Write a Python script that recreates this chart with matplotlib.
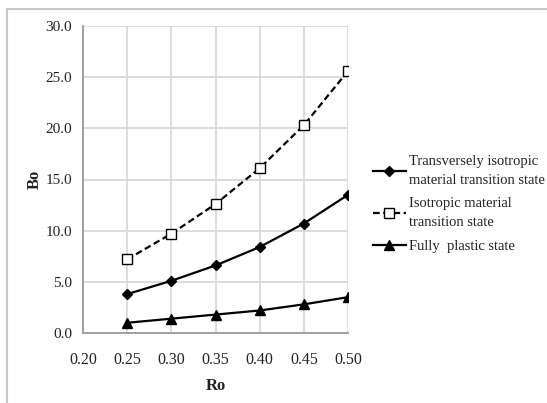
import matplotlib
matplotlib.use("Agg")
import matplotlib.pyplot as plt
from matplotlib.patches import Rectangle

# data
ro = [0.25, 0.30, 0.35, 0.40, 0.45, 0.50]
bo_transverse = [3.8, 5.1, 6.6, 8.4, 10.7, 13.5]
bo_isotropic = [7.2, 9.7, 12.6, 16.1, 20.3, 25.6]
bo_plastic = [1.0, 1.4, 1.8, 2.2, 2.8, 3.5]

labels = [
    "Transversely isotropic\nmaterial transition state",
    "Isotropic material\ntransition state",
    "Fully  plastic state",
]
x_ticks = [0.20, 0.25, 0.30, 0.35, 0.40, 0.45, 0.50]
y_ticks = [0.0, 5.0, 10.0, 15.0, 20.0, 25.0, 30.0]

plt.rcParams['font.family'] = ['Liberation Serif', 'DejaVu Serif']

fig = plt.figure(figsize=(5.47, 4.03), dpi=100)
# outer chart-area frame (runs off the right and bottom edges)
fig.patches.append(Rectangle((7 / 547, -0.05), 1.2, 1 - 9 / 403 + 0.05,
                             transform=fig.transFigure, fill=False,
                             edgecolor="#c8c8c8", linewidth=1.5))

ax = fig.add_axes([83 / 547, 70 / 403, 265 / 547, 307 / 403])

ax.plot(ro, bo_transverse, color="black", lw=1.6, marker="D", ms=5.5,
        label=labels[0])
ax.plot(ro, bo_isotropic, color="black", lw=1.6, ls=(0, (3, 1.6)),
        marker="s", ms=7, mfc="white", mec="black", mew=1.0, label=labels[1])
ax.plot(ro, bo_plastic, color="black", lw=1.6, marker="^", ms=7,
        label=labels[2])

ax.set_xlim(0.20, 0.50)
ax.set_ylim(0, 30)
ax.set_xticks(x_ticks)
ax.set_yticks(y_ticks)
ax.set_xticklabels([f"{v:.2f}" for v in x_ticks], fontsize=11.5)
ax.set_yticklabels([f"{v:.1f}" for v in y_ticks], fontsize=11)
ax.tick_params(axis="x", length=0, pad=14)
ax.tick_params(axis="y", length=0, pad=8)
for lab in ax.get_xticklabels() + ax.get_yticklabels():
    lab.set_color("#222222")

ax.grid(True, color="#d9d9d9", lw=1.3)
ax.set_axisbelow(True)
for side in ["top", "right"]:
    ax.spines[side].set_visible(False)
for side in ["left", "bottom"]:
    ax.spines[side].set_color("#9a9a9a")
    ax.spines[side].set_linewidth(1.3)

ax.set_xlabel("Ro", fontsize=12, fontweight="bold", labelpad=7,
              color="#222222")
ax.set_ylabel("Bo", fontsize=12, fontweight="bold", labelpad=2,
              color="#222222")

leg = ax.legend(loc="center left", bbox_to_anchor=(1.065, 0.42),
                frameon=False, fontsize=10.5, handlelength=2.3,
                handletextpad=0.2, labelspacing=0.75, borderpad=0)
for t in leg.get_texts():
    t.set_linespacing(1.55)
    t.set_color("#222222")

fig.savefig("out.png", dpi=100)
